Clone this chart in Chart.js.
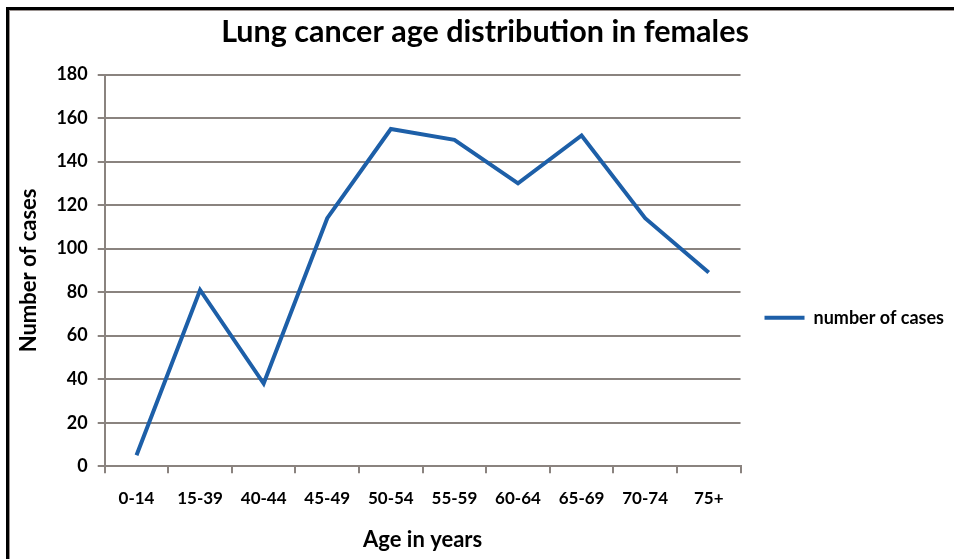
<!DOCTYPE html>
<html>
<head>
<meta charset="utf-8">
<script src="https://cdn.jsdelivr.net/npm/chart.js@4.4.0/dist/chart.umd.min.js"></script>
<style>
  html,body{margin:0;padding:0;background:#fff;}
  #wrap{position:relative;width:954px;height:559px;overflow:hidden;}
  #frame{position:absolute;left:6px;top:7px;width:960px;height:560px;border-top:3px solid #000;border-left:3px solid #000;box-sizing:border-box;pointer-events:none;}
  #frame2{position:absolute;left:9px;top:10px;width:960px;height:560px;border-top:1px solid #9a9290;border-left:1px solid #9a9290;box-sizing:border-box;pointer-events:none;}
  canvas{position:absolute;left:0;top:0;}
</style>
</head>
<body>
<div id="wrap">
<canvas id="c" width="954" height="559"></canvas>
<div id="frame"></div>
<div id="frame2"></div>
</div>
<script>
const categories = ["0-14","15-39","40-44","45-49","50-54","55-59","60-64","65-69","70-74","75+"];
const cases = [5, 81, 38, 114, 155, 150, 130, 152, 114, 89];
const seriesName = "number of cases";
const titleText = "Lung cancer age distribution in females";
const xTitle = "Age in years";
const yTitle = "Number of cases";

const FONT = "Lato, 'Open Sans', sans-serif";
const gridColor = "#8a837f";
const lineColor = "#1d5fa8";

new Chart(document.getElementById('c'), {
  type: 'line',
  data: {
    labels: categories,
    datasets: [{
      label: seriesName,
      data: cases,
      borderColor: lineColor,
      backgroundColor: lineColor,
      borderWidth: 4,
      pointRadius: 0,
      tension: 0,
      fill: false
    }]
  },
  options: {
    responsive: false,
    animation: false,
    devicePixelRatio: 1,
    layout: { padding: { left: 16, right: 0, top: 14, bottom: 6 } },
    plugins: {
      title: {
        display: true,
        text: titleText,
        color: '#000',
        font: { family: FONT, size: 30.5, weight: 'bold' },
        padding: { top: 0, bottom: 24 }
      },
      legend: {
        position: 'right',
        align: 'center',
        title: {
          display: true,
          text: ' ',
          font: { family: FONT, size: 12 },
          padding: { top: 0, bottom: 54 }
        },
        labels: {
          color: '#000',
          font: { family: FONT, size: 18, weight: 'bold' },
          usePointStyle: true,
          pointStyle: 'line',
          pointStyleWidth: 40,
          boxWidth: 40,
          boxHeight: 4,
          padding: 24
        }
      },
      tooltip: { enabled: false }
    },
    scales: {
      x: {
        offset: true,
        grid: {
          offset: true,
          drawOnChartArea: false,
          drawTicks: true,
          tickLength: 7,
          color: gridColor,
          lineWidth: 2
        },
        border: { display: true, color: gridColor, width: 2 },
        ticks: {
          color: '#000',
          font: { family: FONT, size: 17, weight: 'bold' },
          padding: 15,
          maxRotation: 0,
          autoSkip: false
        },
        title: {
          display: true,
          text: xTitle,
          color: '#000',
          font: { family: FONT, size: 22, weight: 'bold' },
          padding: { top: 3, bottom: 0 }
        }
      },
      y: {
        min: 0,
        max: 180,
        ticks: {
          stepSize: 20,
          color: '#000',
          font: { family: FONT, size: 18, weight: 'bold' },
          padding: 10
        },
        grid: {
          color: gridColor,
          lineWidth: 2,
          drawTicks: true,
          tickLength: 7
        },
        border: { display: true, color: gridColor, width: 2 },
        title: {
          display: true,
          text: yTitle,
          color: '#000',
          font: { family: FONT, size: 22, weight: 'bold' },
          padding: { top: 0, bottom: 4 }
        }
      }
    }
  }
});
</script>
</body>
</html>
